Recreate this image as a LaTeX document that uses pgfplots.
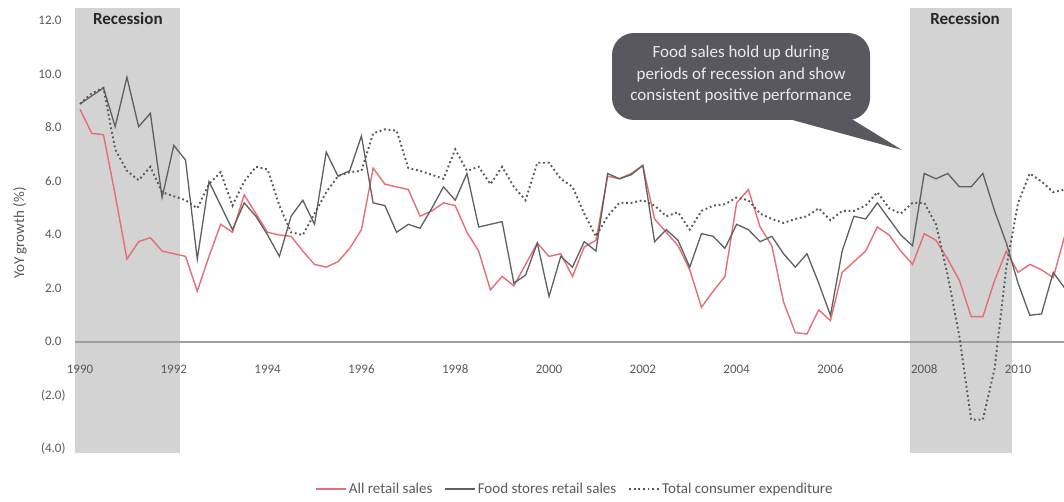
\documentclass[border=0pt]{standalone}
\usepackage{fontspec}
\setmainfont{Carlito}
\usepackage{pgfplots}
\usepackage{pgfplotstable}
\pgfplotsset{compat=1.18}

\definecolor{allret}{RGB}{230,108,118}
\definecolor{foodst}{RGB}{95,95,95}
\definecolor{tce}{RGB}{82,88,82}
\definecolor{tickgray}{RGB}{89,89,89}
\definecolor{recess}{RGB}{211,211,211}
\definecolor{bubble}{RGB}{88,88,94}
\definecolor{zeroline}{RGB}{160,160,160}

% Quarterly year-on-year growth (%)
\pgfplotstableread{
year     allret  food   tce
1990.00  8.70    8.90   8.90
1990.25  7.80    9.20   9.30
1990.50  7.75    9.50   9.50
1990.75  5.50    8.05   7.20
1991.00  3.10    9.90   6.40
1991.25  3.75    8.05   6.05
1991.50  3.90    8.55   6.55
1991.75  3.40    5.40   5.60
1992.00  3.30    7.35   5.45
1992.25  3.20    6.80   5.30
1992.50  1.90    3.10   5.00
1992.75  3.20    6.00   5.90
1993.00  4.40    5.10   6.35
1993.25  4.10    4.20   5.10
1993.50  5.50    5.20   6.00
1993.75  4.80    4.70   6.55
1994.00  4.10    4.00   6.45
1994.25  4.00    3.20   5.10
1994.50  3.95    4.70   4.10
1994.75  3.40    5.30   4.00
1995.00  2.90    4.40   4.80
1995.25  2.80    7.10   5.60
1995.50  3.00    6.20   6.20
1995.75  3.50    6.40   6.35
1996.00  4.20    7.70   6.40
1996.25  6.50    5.20   7.80
1996.50  5.90    5.10   7.95
1996.75  5.80    4.10   7.90
1997.00  5.70    4.40   6.50
1997.25  4.70    4.25   6.40
1997.50  4.90    5.00   6.25
1997.75  5.20    5.80   6.10
1998.00  5.10    5.30   7.20
1998.25  4.10    6.30   6.40
1998.50  3.40    4.30   6.55
1998.75  1.95    4.40   5.90
1999.00  2.45    4.50   6.55
1999.25  2.10    2.20   5.80
1999.50  2.90    2.50   5.30
1999.75  3.70    3.70   6.70
2000.00  3.20    1.70   6.70
2000.25  3.30    3.20   6.10
2000.50  2.45    2.80   5.80
2000.75  3.55    3.75   4.80
2001.00  3.80    3.40   3.95
2001.25  6.20    6.30   4.70
2001.50  6.10    6.10   5.20
2001.75  6.30    6.25   5.20
2002.00  6.60    6.60   5.30
2002.25  4.60    3.75   5.10
2002.50  4.10    4.20   4.70
2002.75  3.60    3.80   4.85
2003.00  2.70    2.80   4.20
2003.25  1.30    4.05   4.90
2003.50  1.90    3.95   5.10
2003.75  2.45    3.50   5.15
2004.00  5.20    4.40   5.40
2004.25  5.70    4.20   5.30
2004.50  4.30    3.75   4.80
2004.75  3.60    3.95   4.60
2005.00  1.50    3.30   4.45
2005.25  0.35    2.80   4.60
2005.50  0.30    3.30   4.70
2005.75  1.20    2.20   5.00
2006.00  0.80    1.00   4.55
2006.25  2.60    3.40   4.90
2006.50  3.00    4.70   4.90
2006.75  3.40    4.60   5.10
2007.00  4.30    5.20   5.60
2007.25  4.00    4.60   5.00
2007.50  3.40    4.00   4.80
2007.75  2.90    3.60   5.20
2008.00  4.05    6.30   5.20
2008.25  3.80    6.10   4.40
2008.50  3.10    6.30   2.50
2008.75  2.30    5.80   0.20
2009.00  0.95    5.80  -2.90
2009.25  0.95    6.30  -2.90
2009.50  2.30    4.90  -1.00
2009.75  3.40    3.70   2.80
2010.00  2.60    2.20   5.20
2010.25  2.90    1.00   6.30
2010.50  2.70    1.05   6.00
2010.75  2.40    2.60   5.60
2011.00  4.00    2.00   5.70
}\growth

\begin{document}
\begin{tikzpicture}
\useasboundingbox (0,0) rectangle (1064pt,501pt);
\begin{axis}[
  at={(75pt,48pt)}, anchor=south west,
  scale only axis, width=989pt, height=445pt,
  xmin=1989.893, xmax=2010.98, ymin=-4.15, ymax=12.486,
  axis on top,
  axis line style={draw=none},
  major tick length=0pt,
  xtick={1990,1992,...,2010},
  xticklabels={1990,1992,1994,1996,1998,2000,2002,2004,2006,2008,2010},
  ytick={-4,-2,...,12},
  yticklabels={(4.0),(2.0),0.0\phantom{)},2.0\phantom{)},4.0\phantom{)},6.0\phantom{)},8.0\phantom{)},10.0\phantom{)},12.0\phantom{)}},
  /pgf/number format/assume math mode=true,
  tick label style={font=\fontsize{13}{15}\selectfont, text=tickgray},
  xticklabel style={anchor=base, yshift=80pt},
  yticklabel style={anchor=east, xshift=-6pt},
  every axis y label/.style={at={(axis description cs:-0.0556,0.494)}, anchor=center, rotate=90,
    font=\fontsize{15}{17}\selectfont, text=tickgray},
  ylabel={YoY growth (\%)},
  legend style={at={(axis description cs:0.5056,-0.081)}, anchor=center, draw=none, fill=none,
    font=\fontsize{15}{17}\selectfont, text=tickgray, legend columns=3,
    /tikz/every even column/.append style={column sep=10pt}},
  legend image code/.code={\draw[#1] (0pt,0pt) -- (30pt,0pt);},
]
% recession bands
\fill[recess] (axis cs:1989.893,-4.15) rectangle (axis cs:1992.13,12.486);
\fill[recess] (axis cs:2007.70,-4.15) rectangle (axis cs:2009.87,12.486);
\draw[zeroline, line width=1.6pt] (axis cs:1989.893,0) -- (axis cs:2010.98,0);

\addplot[allret, line width=1.4pt, no markers] table[x=year, y=allret] {\growth};
\addlegendentry{All retail sales}
\addplot[foodst, line width=1.3pt, no markers] table[x=year, y=food] {\growth};
\addlegendentry{Food stores retail sales}
\addplot[tce, line width=1.9pt, dash pattern=on 1.8pt off 2.8pt, no markers] table[x=year, y=tce] {\growth};
\addlegendentry{Total consumer expenditure}

\node[font=\bfseries\fontsize{17}{19}\selectfont, text=black!85] at (axis cs:1991.02,12.1) {Recession};
\node[font=\bfseries\fontsize{17}{19}\selectfont, text=black!85] at (axis cs:2008.87,12.1) {Recession};

% callout
\fill[bubble] (axis cs:2004.563,8.6) -- (axis cs:2007.527,7.178) -- (axis cs:2006.205,8.6) -- cycle;
\fill[bubble, rounded corners=22pt] (axis cs:2001.343,11.551) rectangle (axis cs:2006.844,8.299);
\node[align=center, text=white!92!black, font=\fontsize{17}{21.7}\selectfont]
  at (axis cs:2004.094,10.0) {Food sales hold up during\\periods of recession and show\\consistent positive performance};
\end{axis}
\end{tikzpicture}
\end{document}
